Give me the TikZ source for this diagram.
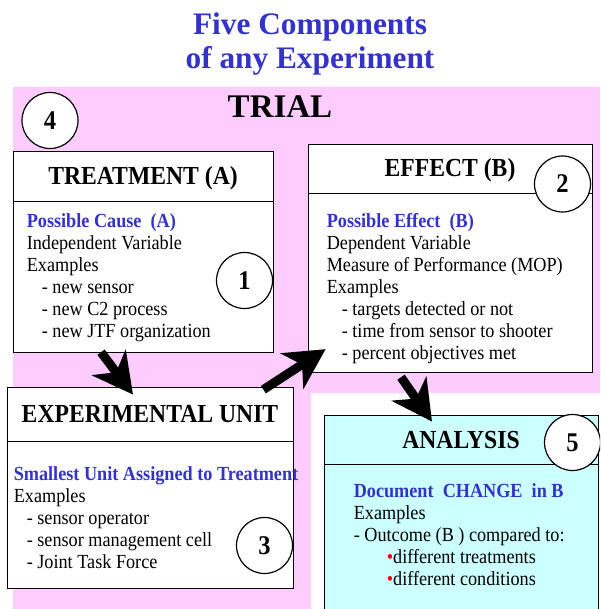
\documentclass[tikz,border=0pt]{standalone}
\usepackage{fontspec}
\setmainfont{Liberation Serif}
\newfontfamily\boxfont{Liberation Serif}[FakeStretch=0.91]
\usetikzlibrary{positioning,arrows.meta}

\definecolor{TrialPink}{RGB}{255,204,255}
\definecolor{AnalysisCyan}{RGB}{204,255,255}
\definecolor{CauseBlue}{RGB}{51,51,204}
\colorlet{BulletRed}{red}

\begin{document}
\begin{tikzpicture}[x=1pt, y=-1pt,
    headbox/.style={draw, line width=0.8pt, fill=white, inner sep=0pt,
        text height=19pt, text depth=2pt,
        font=\boxfont\bfseries\fontsize{26}{30}\selectfont},
    bodybox/.style={draw, line width=0.8pt, fill=white, inner sep=0pt},
    bodytext/.style={inner sep=0pt, align=left,
        font=\boxfont\fontsize{20}{22}\selectfont},
    numcircle/.style={draw, circle, line width=1.2pt, fill=white,
        minimum size=56pt, inner sep=0pt,
        font=\boxfont\bfseries\fontsize{27}{30}\selectfont},
    bigarrow/.style={line width=9pt,
        -{Stealth[length=40pt, width=42pt, inset=12pt]}}]

    \clip (0,0) rectangle (600,609);
    \fill[white] (0,0) rectangle (600,609);

    % trial area
    \fill[TrialPink] (13,87) -- (600,87) -- (600,393) -- (311,393)
        -- (311,609) -- (13,609) -- cycle;

    \node[align=center, text=CauseBlue,
        font=\bfseries\fontsize{31.3}{34}\selectfont] (title) at (310,43.7)
        {Five Components\\of any Experiment};
    \node[anchor=base, font=\bfseries\fontsize{33}{36}\selectfont]
        (trial) at (280,118) {TRIAL};

    % treatment
    \node[headbox, minimum width=260pt, minimum height=50pt]
        (treathead) at (143,176) {TREATMENT (A)};
    \node[bodybox, minimum width=260pt, minimum height=151pt,
        below=0pt of treathead] (treatbody) {};
    \node[bodytext, below right=10.6pt and 14pt of treatbody.north west]
        (treattext) {\strut\textcolor{CauseBlue}{\bfseries Possible Cause\ \ (A)}\\
        Independent Variable\\
        Examples\\
        \hspace*{15pt}- new sensor\\
        \hspace*{15pt}- new C2 process\\
        \hspace*{15pt}- new JTF organization};

    % effect
    \node[headbox, minimum width=284pt, minimum height=49pt]
        (effhead) at (450,168.5) {EFFECT (B)};
    \node[bodybox, minimum width=284pt, minimum height=179pt,
        below=0pt of effhead] (effbody) {};
    \node[bodytext, below right=18.6pt and 19pt of effbody.north west]
        (efftext) {\strut\textcolor{CauseBlue}{\bfseries Possible Effect\ \ (B)}\\
        Dependent Variable\\
        Measure of Performance (MOP)\\
        Examples\\
        \hspace*{15pt}- targets detected or not\\
        \hspace*{15pt}- time from sensor to shooter\\
        \hspace*{15pt}- percent objectives met};

    % experimental unit
    \node[headbox, minimum width=286pt, minimum height=54pt]
        (unithead) at (150,414) {EXPERIMENTAL UNIT};
    \node[bodybox, minimum width=286pt, minimum height=147pt,
        below=0pt of unithead] (unitbody) {};
    \node[bodytext, below right=23.6pt and 7pt of unitbody.north west]
        (unittext) {\strut\textcolor{CauseBlue}{\bfseries Smallest Unit Assigned to Treatment}\\
        Examples\\
        \hspace*{13pt}- sensor operator\\
        \hspace*{13pt}- sensor management cell\\
        \hspace*{13pt}- Joint Task Force};

    % analysis
    \node[headbox, fill=AnalysisCyan, minimum width=274pt, minimum height=49pt]
        (anahead) at (461,439.5) {ANALYSIS};
    \node[bodybox, fill=AnalysisCyan, minimum width=274pt, minimum height=156pt,
        below=0pt of anahead] (anabody) {};
    \node[bodytext, below right=17.6pt and 30pt of anabody.north west]
        (anatext) {\strut\textcolor{CauseBlue}{\bfseries Document\ \ CHANGE\ \ in B}\\
        Examples\\
        - Outcome (B ) compared to:\\
        \hspace*{33pt}{\color{BulletRed}\textbullet}different treatments\\
        \hspace*{33pt}{\color{BulletRed}\textbullet}different conditions};

    % numbers
    \node[numcircle] (one) at (244.5,280.5) {1};
    \node[numcircle] (two) at (562.5,184) {2};
    \node[numcircle] (three) at (264.5,545.5) {3};
    \node[numcircle] (four) at (50,120.5) {4};
    \node[numcircle] (five) at (572.5,442.5) {5};

    % arrows
    \draw[bigarrow] ([xshift=-42pt, yshift=1pt]treatbody.south)
        -- ([xshift=-17pt, yshift=-8pt]unithead.north);
    \draw[bigarrow] ([xshift=-30pt, yshift=-3pt]unithead.north east)
        -- ([xshift=18pt, yshift=24pt]effbody.south west);
    \draw[bigarrow] ([xshift=-49pt, yshift=-4pt]effbody.south)
        -- ([xshift=-29pt, yshift=-7pt]anahead.north);

\end{tikzpicture}
\end{document}
